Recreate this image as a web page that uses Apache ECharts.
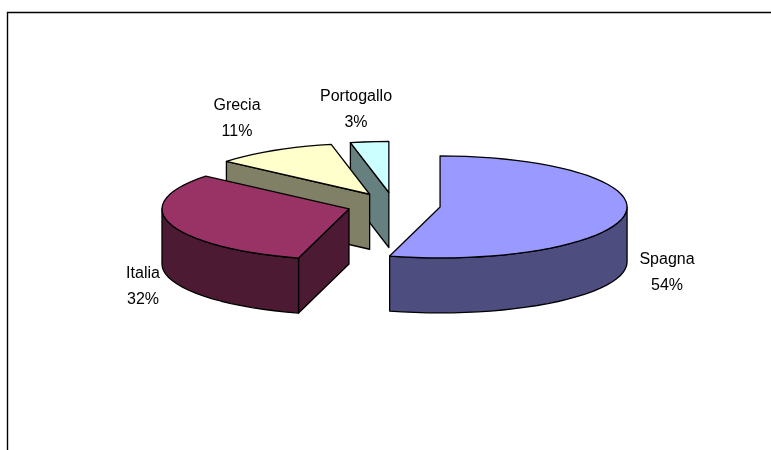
<!DOCTYPE html>
<html>
<head>
<meta charset="utf-8">
<style>html,body{margin:0;padding:0;background:#fff}#c{width:771px;height:450px}</style>
<script src="https://cdn.jsdelivr.net/npm/echarts@6/dist/echarts.min.js"></script>
</head>
<body>
<div id="c"></div>
<script>
const categories = ['Spagna', 'Italia', 'Grecia', 'Portogallo'];
const values = [54.4, 31.8, 10.6, 3.3];

const topColors = ['#9999FF', '#993366', '#FFFFCC', '#CCFFFF'];
const sideColors = ['#4D4D80', '#4D1A33', '#808066', '#668080'];
const labelCenters = [[667, 273], [143, 287], [237, 119], [356, 110]];

const layout = { cx: 393.7, cy: 205.2, rx: 187, ry: 51, depth: 55, explode: 46.8, step: 4 };
const total = values.reduce((a, b) => a + b, 0);
const toRad = d => d * Math.PI / 180;

function point(ax, ay, deg, f) {
  return [ax + layout.rx * f * Math.sin(toRad(deg)), ay - layout.ry * f * Math.cos(toRad(deg))];
}
function arc(ax, ay, a0, a1) {
  const pts = [];
  const n = Math.max(1, Math.ceil((a1 - a0) / layout.step));
  for (let i = 0; i <= n; i++) pts.push(point(ax, ay, a0 + (a1 - a0) * i / n, 1));
  return pts;
}
const down = p => [p[0], p[1] + layout.depth];

const chart = echarts.init(document.getElementById('c'), null, { renderer: 'canvas' });
chart.setOption({
  animation: false,
  backgroundColor: '#fff',
  graphic: [{
    type: 'polyline', silent: true,
    shape: { points: [[7.5, 450], [7.5, 12.5], [771, 12.5]] },
    style: { stroke: '#000', fill: null, lineWidth: 1.4 }
  }],
  series: [{
    type: 'custom',
    coordinateSystem: 'none',
    silent: true,
    data: categories.map((n, i) => ({ name: n, value: values[i] })),
    renderItem(params, api) {
      const i = params.dataIndex;
      let start = 0;
      for (let k = 0; k < i; k++) start += values[k] / total * 360;
      const end = start + values[i] / total * 360;
      const mid = (start + end) / 2;
      const apex = point(layout.cx, layout.cy, mid, layout.explode / layout.rx);
      const [ax, ay] = apex;
      const base = (categories.length - i) * 10;
      const line = { stroke: '#000', lineWidth: 1.3, lineJoin: 'round' };
      const children = [];
      const face = (pts, fill, z) => children.push({
        type: 'polygon', z2: base + z, shape: { points: pts }, style: { fill, ...line }
      });
      const radial = deg => {
        const p = point(ax, ay, deg, 1);
        face([apex, p, down(p), down(apex)], sideColors[i], 0);
      };
      if (Math.sin(toRad(start)) < -1e-6) radial(start);
      if (Math.sin(toRad(end)) > 1e-6) radial(end);
      const w0 = Math.max(start, 90), w1 = Math.min(end, 270);
      if (w1 > w0) {
        const a = arc(ax, ay, w0, w1);
        face(a.concat(a.map(down).reverse()), sideColors[i], 1);
      }
      face([apex].concat(arc(ax, ay, start, end)), topColors[i], 2);
      const [lx, ly] = labelCenters[i];
      const textStyle = { fill: '#000', font: '16px "Liberation Sans", Arial, sans-serif', align: 'center', verticalAlign: 'middle' };
      children.push(
        { type: 'text', z2: 100, x: lx, y: ly - 13, style: { ...textStyle, text: categories[i] } },
        { type: 'text', z2: 100, x: lx, y: ly + 13, style: { ...textStyle, text: Math.round(values[i] / total * 100) + '%' } }
      );
      return { type: 'group', children };
    }
  }]
});
</script>
</body>
</html>
